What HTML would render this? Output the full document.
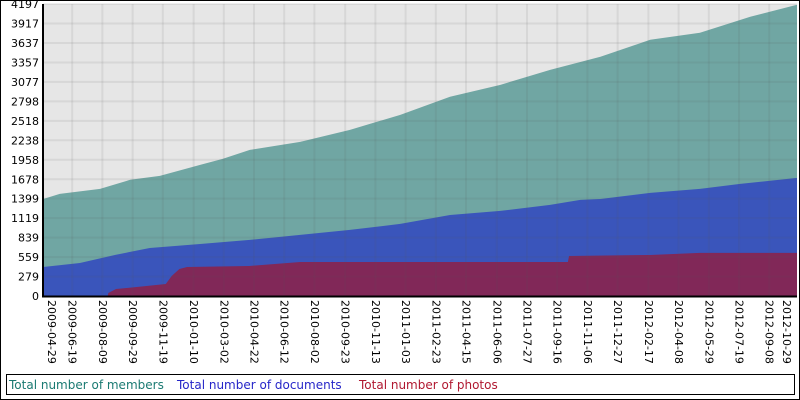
<!DOCTYPE html>
<html><head><meta charset="utf-8"><style>
body{margin:0;background:#fff}
svg{display:block;font-family:"DejaVu Sans","Liberation Sans",sans-serif}
</style></head><body>
<svg id="c" width="800" height="400" xmlns="http://www.w3.org/2000/svg">
<rect x="0.5" y="0.5" width="799" height="399" fill="#fff" stroke="#000"/>
<rect x="43" y="4" width="754" height="292" fill="#e6e6e6"/>
<g id="areas"></g><g id="grid"></g><g id="axes"></g>
<rect x="6.5" y="374.5" width="788" height="20" fill="#fff" stroke="#000"/>
<text x="9" y="389" font-size="12" fill="#1a7a72">Total number of members</text>
<text x="177" y="389" font-size="12" fill="#2626c8">Total number of documents</text>
<text x="359" y="389" font-size="12" fill="#b01830">Total number of photos</text>
</svg>
<script>
const yTicks=[0,279,559,839,1119,1399,1678,1958,2238,2518,2798,3077,3357,3637,3917,4197];
const xTickLabels=["2009-04-29","2009-06-19","2009-08-09","2009-09-29","2009-11-19","2010-01-10","2010-03-02","2010-04-22","2010-06-12","2010-08-02","2010-09-23","2010-11-13","2011-01-03","2011-02-23","2011-04-15","2011-06-06","2011-07-27","2011-09-16","2011-11-06","2011-12-27","2012-02-17","2012-04-08","2012-05-29","2012-07-19","2012-09-08","2012-10-29"];
const xTickDays=[0,51,102,153,204,256,307,358,409,460,512,563,614,665,716,768,819,870,921,972,1024,1075,1126,1177,1228,1279];
const memberDays=[2,30,98,149,199,267,305,351,436,520,605,689,774,858,943,1027,1111,1196,1275];
const memberVals=[1395,1468,1540,1670,1727,1885,1971,2100,2215,2388,2604,2863,3035,3251,3438,3683,3784,4014,4186];
const docDays=[2,64,123,182,267,351,436,520,605,689,774,858,909,943,1027,1111,1179,1275];
const docVals=[417,475,590,690,748,806,878,950,1036,1165,1223,1309,1381,1395,1482,1539,1611,1698];
const photoDays=[111,112,125,160,209,219,232,245,350,436,520,605,689,774,888,890,1027,1111,1275];
const photoVals=[0,43,101,129,173,288,388,417,432,489,489,489,489,489,489,575,590,619,619];
const X0=42,PXD=0.5922,Y0=296,YMAX=4197,H=292;
const sx=d=>X0+d*PXD, sy=v=>Y0-v/YMAX*H;
const NS="http://www.w3.org/2000/svg";
function mk(t,a,p){const e=document.createElementNS(NS,t);for(const k in a)e.setAttribute(k,a[k]);p.appendChild(e);return e;}
function area(days,vals,col,name){
  let pts=[[sx(days[0]),Y0]];
  days.forEach((d,i)=>pts.push([sx(d),sy(vals[i])]));
  pts.push([797,sy(vals[vals.length-1])]);pts.push([797,Y0]);
  const p=mk("polygon",{points:pts.map(q=>q.join(",")).join(" "),fill:col},document.getElementById("areas"));
  
  
}
area(memberDays,memberVals,"#70a6a3","members-area");
area(docDays,docVals,"#3a55bb","documents-area");
area(photoDays,photoVals,"#812858","photos-area");
const g=document.getElementById("grid"),ax=document.getElementById("axes");
yTicks.forEach((v,i)=>{
  const y=sy(v);
  if(i>0){const l=mk("line",{x1:43,x2:797,y1:y,y2:y,stroke:"rgba(90,90,90,0.1)","stroke-width":2},g);
  
  }
  const t=mk("text",{x:39,y:y+4,"font-size":11,"text-anchor":"end",fill:"#000"},ax);
  t.textContent=v;
  
  
});
xTickDays.forEach((d,i)=>{
  const x=sx(d);
  if(i>0&&i<xTickDays.length-1){const l=mk("line",{x1:x,x2:x,y1:4,y2:296,stroke:"rgba(90,90,90,0.1)","stroke-width":2},g);
  
  }
  let cx=i==0?52:(i==xTickDays.length-1?787:x+0.5);
  const t=mk("text",{x:0,y:0,"font-size":11,fill:"#000",transform:`translate(${cx-4},300) rotate(90)`},ax);
  t.textContent=xTickLabels[i];
  
  
});
const a1=mk("line",{x1:43,x2:43,y1:4,y2:297,stroke:"#000","stroke-width":2},ax);


const a2=mk("line",{x1:42,x2:797,y1:296.5,y2:296.5,stroke:"#000","stroke-width":2},ax);


</script>
</body></html>
